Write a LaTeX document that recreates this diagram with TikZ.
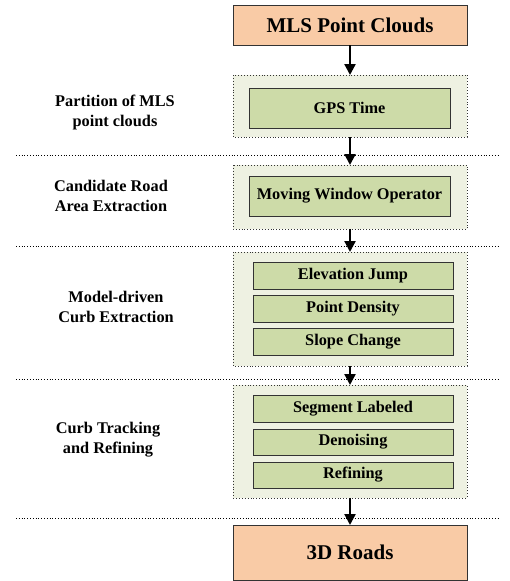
\documentclass[tikz,border=0pt]{standalone}
\usepackage{fontspec}
\setmainfont{Liberation Serif}
\usetikzlibrary{arrows.meta}
\definecolor{peach}{HTML}{F9CBA6}
\definecolor{leaf}{HTML}{CDDBA8}
\definecolor{pale}{HTML}{EEF1E2}
\definecolor{edge}{HTML}{333333}
\tikzset{
  endbox/.style={draw=edge, line width=1pt, fill=peach},
  endtxt/.style={font=\fontsize{21}{24}\selectfont\bfseries},
  grp/.style={draw=edge, dotted, line width=0.9pt, fill=pale},
  inbox/.style={draw=edge, line width=1pt, fill=leaf},
  intxt/.style={font=\fontsize{16.3}{18}\selectfont\bfseries},
  sep/.style={draw=black, dotted, line width=0.8pt},
  lbl/.style={align=center, font=\fontsize{16.3}{20}\selectfont\bfseries},
  flow/.style={-{Triangle[length=11pt,width=11pt]}, line width=2.3pt}
}
\begin{document}
\begin{tikzpicture}[x=1pt,y=-1pt]
\useasboundingbox (0,0) rectangle (510,581);
% top
\path[endbox] (233,5) rectangle (467,45);
\node[endtxt] (top) at (350,25) {MLS Point Clouds};
\coordinate (topB) at (350,45);
% group 1
\path[grp] (233,75) rectangle (467,137);
\coordinate (g1T) at (350,75); \coordinate (g1B) at (350,137);
\path[inbox] (249,88) rectangle (450,128);
\node[intxt] (gps) at (349.5,108) {GPS Time};
% group 2
\path[grp] (233,165) rectangle (467,229);
\coordinate (g2T) at (350,165); \coordinate (g2B) at (350,229);
\path[inbox] (249,176) rectangle (450,216);
\node[intxt] (mwo) at (349.5,196) {Moving Window Operator};
% group 3
\path[grp] (233,252) rectangle (467,366);
\coordinate (g3T) at (350,252); \coordinate (g3B) at (350,366);
\path[inbox] (253,262) rectangle (453,289);
\node[intxt] (ej) at (353,275.5) {Elevation Jump};
\path[inbox] (253,295) rectangle (453,322);
\node[intxt] (pd) at (353,308.5) {Point Density};
\path[inbox] (253,328) rectangle (453,355);
\node[intxt] (sc) at (353,341.5) {Slope Change};
% group 4
\path[grp] (233,385) rectangle (467,498);
\coordinate (g4T) at (350,385); \coordinate (g4B) at (350,498);
\path[inbox] (253,395) rectangle (453,422);
\node[intxt] (sl) at (353,408.5) {Segment Labeled};
\path[inbox] (253,429) rectangle (453,455);
\node[intxt] (dn) at (353,442) {Denoising};
\path[inbox] (253,462) rectangle (453,488);
\node[intxt] (rf) at (353,475) {Refining};
% bottom
\path[endbox] (233,525) rectangle (467,580);
\node[endtxt] (bot) at (350,552.5) {3D Roads};
\coordinate (botT) at (350,525);
% separators
\coordinate (s1L) at (16,155); \coordinate (s1R) at (500,155);
\coordinate (s2L) at (16,246); \coordinate (s2R) at (500,246);
\coordinate (s3L) at (16,379); \coordinate (s3R) at (500,379);
\coordinate (s4L) at (16,518); \coordinate (s4R) at (500,518);
\draw[sep] (s1L) -- (s1R);
\draw[sep] (s2L) -- (s2R);
\draw[sep] (s3L) -- (s3R);
\draw[sep] (s4L) -- (s4R);
% arrows
\draw[flow] (topB) -- (g1T);
\draw[flow] (g1B) -- (g2T);
\draw[flow] (g2B) -- (g3T);
\draw[flow] (g3B) -- (g4T);
\draw[flow] (g4B) -- (botT);
% labels
\node[lbl] (l1) at (115,112) {Partition of MLS\\point clouds};
\node[lbl] (l2) at (111,196) {Candidate Road\\Area Extraction};
\node[lbl] (l3) at (116,307) {Model-driven\\Curb Extraction};
\node[lbl] (l4) at (108,440) {Curb Tracking\\and Refining};
\end{tikzpicture}
\end{document}
